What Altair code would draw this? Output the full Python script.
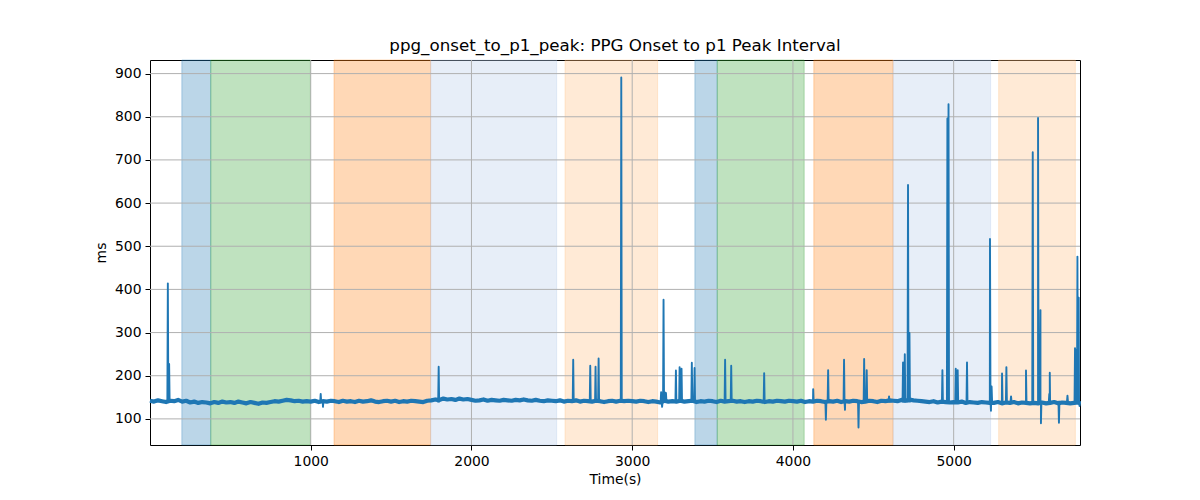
import altair as alt
import pandas as pd

# ---- data ----
base_times = list(range(0, 5776, 25)) + [5786]
base_values = [
    142, 140, 143, 141, 139, 142, 141, 144, 140, 142,
    138, 140, 137, 139, 138, 136, 139, 137, 140, 138,
    139, 137, 140, 138, 136, 139, 137, 135, 138, 137,
    139, 141, 140, 142, 144, 143, 141, 142, 140, 141,
    140, 142, 139, 141, 140, 142, 141, 139, 142, 140,
    141, 139, 142, 140, 141, 143, 140, 139, 141, 142,
    140, 142, 139, 141, 140, 142, 141, 140, 139, 142,
    143, 145, 144, 147, 145, 146, 144, 147, 145, 146,
    144, 142, 143, 145, 142, 144, 143, 142, 144, 143,
    142, 144, 143, 145, 143, 142, 144, 142, 141, 143,
    142, 141, 143, 140, 142, 141, 143, 140, 142, 141,
    140, 142, 141, 139, 141, 142, 140, 142, 141, 142,
    141, 140, 142, 141, 139, 141, 140, 138, 142, 140,
    141, 140, 142, 140, 141, 142, 139, 141, 140, 142,
    141, 139, 142, 140, 141, 142, 140, 141, 139, 141,
    140, 142, 141, 139, 141, 140, 142, 141, 140, 142,
    141, 140, 142, 139, 141, 140, 142, 141, 139, 141,
    140, 142, 139, 141, 140, 142, 141, 139, 140, 142,
    141, 139, 142, 141, 143, 142, 141, 144, 142, 145,
    143, 142, 141, 140, 139, 141, 138, 140, 139, 138,
    139, 138, 140, 137, 139, 138, 137, 139, 138, 137,
    137, 139, 136, 138, 137, 139, 136, 138, 137, 136,
    137, 136, 138, 136, 137, 139, 136, 138, 137, 136,
    137, 138, 136,
]

spike_t = [111, 119, 1062, 1076, 1796, 2633, 2739, 2772, 2791, 2932,
           3180, 3186, 3195, 3202, 3210, 3272, 3295, 3307, 3371, 3388,
           3578, 3616, 3821, 4126, 4205, 4219, 4318, 4324, 4408, 4443,
           4459, 4598, 4685, 4696, 4716, 4725, 4930, 4961, 4968, 5013,
           5025, 5083, 5226, 5232, 5236, 5301, 5328, 5357, 5450, 5492,
           5525, 5540, 5543, 5595, 5598, 5655, 5708, 5755, 5762, 5770,
           5778, 5783]
spike_v = [414, 227, 158, 128, 221, 237, 223, 221, 240, 891,
           162, 128, 376, 162, 160, 212, 220, 216, 230, 218,
           237, 223, 206, 169, 98, 213, 237, 121, 80, 239,
           213, 152, 231, 250, 642, 299, 213, 796, 829, 216,
           213, 231, 517, 119, 175, 205, 220, 152, 212, 718,
           797, 352, 90, 158, 207, 91, 154, 264, 260, 476,
           381, 130]
BASE = 140
HALF_WIDTH = 3  # seconds either side of a spike where the trace returns to baseline

span_start = [198, 378, 1145, 1746, 2582, 3390, 3529, 4130, 4623, 5280]
span_end = [378, 998, 1746, 2530, 3158, 3529, 4070, 4623, 5230, 5757]
span_color = ["#1f77b4", "#2ca02c", "#ff7f0e", "#aec7e8", "#ffbb78",
              "#1f77b4", "#2ca02c", "#ff7f0e", "#aec7e8", "#ffbb78"]

x_ticks = [1000, 2000, 3000, 4000, 5000]
y_ticks = [100, 200, 300, 400, 500, 600, 700, 800, 900]

TITLE = "ppg_onset_to_p1_peak: PPG Onset to p1 Peak Interval"

# ---- build tables ----
base_df = pd.DataFrame({"t": base_times, "v": base_values})
rows = list(zip(base_times, base_values))
for t, v in zip(spike_t, spike_v):
    rows += [(t - HALF_WIDTH, BASE), (t, v), (t + HALF_WIDTH, BASE)]
line_df = pd.DataFrame(rows, columns=["t", "v"]).sort_values("t", kind="stable").reset_index(drop=True)
span_df = pd.DataFrame({"s": span_start, "e": span_end, "c": span_color})
xg_df = pd.DataFrame({"x": x_ticks})
yg_df = pd.DataFrame({"y": y_ticks})

FONT = "DejaVu Sans"
xscale = alt.Scale(domain=[0, 5786], nice=False, zero=False)
yscale = alt.Scale(domain=[39.5, 931.5], nice=False, zero=False)

common_axis = dict(grid=False, domain=False, tickColor="black",
                   tickSize=5, tickWidth=1, labelFontSize=13.9, labelColor="black",
                   labelFont=FONT, labelPadding=4, titleFont=FONT, titleFontSize=13.9,
                   titleFontWeight="normal", titleColor="black",
                   format="d", labelFlush=False)
xaxis = alt.Axis(values=x_ticks, titlePadding=5, **common_axis)
yaxis = alt.Axis(values=y_ticks, titlePadding=6, **common_axis)

X_TITLE = "Time(s)"
Y_TITLE = "ms"

spans = alt.Chart(span_df).mark_rect(fillOpacity=0.3, strokeOpacity=0.3, strokeWidth=1).encode(
    x=alt.X("s:Q", scale=xscale, axis=xaxis, title=X_TITLE),
    x2="e:Q",
    fill=alt.Fill("c:N", scale=None),
    stroke=alt.Stroke("c:N", scale=None),
)

xgrid = alt.Chart(xg_df).mark_rule(color="#b0b0b0", strokeWidth=1).encode(
    x=alt.X("x:Q", scale=xscale, axis=xaxis, title=X_TITLE)
)
ygrid = alt.Chart(yg_df).mark_rule(color="#b0b0b0", strokeWidth=1).encode(
    y=alt.Y("y:Q", scale=yscale, axis=yaxis, title=Y_TITLE)
)

band = alt.Chart(base_df).mark_line(color="#1f77b4", strokeWidth=4.2, strokeJoin="round").encode(
    x=alt.X("t:Q", scale=xscale, axis=xaxis, title=X_TITLE),
    y=alt.Y("v:Q", scale=yscale, axis=yaxis, title=Y_TITLE),
)

line = alt.Chart(line_df).mark_line(color="#1f77b4", strokeWidth=1.9, strokeJoin="round").encode(
    x=alt.X("t:Q", scale=xscale, axis=xaxis, title=X_TITLE, sort=None),
    y=alt.Y("v:Q", scale=yscale, axis=yaxis, title=Y_TITLE),
    order=alt.Order("t:Q"),
)

chart = alt.layer(spans, xgrid, ygrid, band, line).properties(
    width=930,
    height=385,
    autosize=alt.AutoSizeParams(type="none"),
    padding={"left": 142, "top": 52, "right": 112, "bottom": 47},
    background="white",
    title=alt.TitleParams(TITLE, font=FONT, fontSize=16.7, fontWeight="normal",
                          color="black", anchor="middle", offset=5),
).configure_view(stroke="black", strokeWidth=1)

chart.save("out.html", embed_options={"renderer": "svg", "actions": False})
